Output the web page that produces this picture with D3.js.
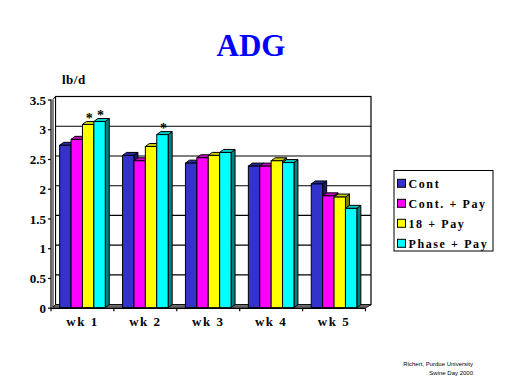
<!DOCTYPE html>
<html>
<head>
<meta charset="utf-8">
<script src="https://cdn.jsdelivr.net/npm/d3@7"></script>
<style>
  body { margin: 0; background: #fff; }
  svg { display: block; }
  text { font-family: "Liberation Serif", "Times New Roman", serif; font-weight: bold; }
</style>
</head>
<body>
<div id="chart"></div>
<script>
// data
const weeks = ["wk 1", "wk 2", "wk 3", "wk 4", "wk 5"];
const seriesNames = ["Cont", "Cont. + Pay", "18 + Pay", "Phase + Pay"];
const cont = [2.73, 2.56, 2.43, 2.38, 2.08];
const contPay = [2.83, 2.47, 2.52, 2.38, 1.88];
const eighteenPay = [3.08, 2.71, 2.56, 2.47, 1.86];
const phasePay = [3.13, 2.91, 2.61, 2.44, 1.67];
const yTicks = [0, 0.5, 1, 1.5, 2, 2.5, 3, 3.5];
// significance stars: [week index, series index]
const stars = [[0, 2], [0, 3], [1, 3]];

const colors = ["#3333CC", "#FF00FF", "#FFFF00", "#00FFFF"];
const sideColors = ["#1A1A66", "#800080", "#808000", "#008080"];
const topColors = ["#2929A3", "#CC00CC", "#CCCC00", "#00CCCC"];

const width = 512;
const height = 384;
const dx = 4, dy = -3; // 3D depth offset

const svg = d3.select("#chart").append("svg")
  .attr("width", width).attr("height", height);

const y = d3.scaleLinear().domain([0, 3.5]).range([307.7, 99.5]);
const x = d3.scaleBand().domain(weeks).range([51, 365.5])
  .paddingInner(0.275).paddingOuter(0.1375);
const xs = d3.scaleBand().domain(seriesNames).range([0, x.bandwidth()]);

const allSeries = [cont, contPay, eighteenPay, phasePay];
const rows = [];
weeks.forEach((w, i) => {
  allSeries.forEach((s, j) => rows.push({ week: w, series: seriesNames[j], j, value: s[i] }));
});

// title
svg.append("text").attr("x", 251).attr("y", 55.5)
  .attr("text-anchor", "middle").attr("font-size", 31).attr("fill", "#0000FF")
  .text("ADG");

svg.append("text").attr("x", 62).attr("y", 84).attr("font-size", 13)
  .attr("letter-spacing", 0.5).text("lb/d");

// back wall
const left = 55.5, right = 371;
svg.append("rect").attr("x", left).attr("y", y(3.5) + dy)
  .attr("width", right - left).attr("height", y(0) - y(3.5))
  .attr("fill", "#fff").attr("stroke", "#000").attr("stroke-width", 1.2);

// gridlines on back wall
svg.append("g").selectAll("line").data(yTicks.filter(d => d > 0 && d < 3.5)).join("line")
  .attr("x1", left).attr("x2", right)
  .attr("y1", d => y(d) + dy).attr("y2", d => y(d) + dy)
  .attr("stroke", "#000").attr("stroke-width", 1.2);

// side wall
svg.append("path")
  .attr("d", `M${left - 2.5},${y(3.5)} L${left},${y(3.5) + dy} L${left},${y(0) + dy} L${left - 2.5},${y(0)} Z`)
  .attr("fill", "#fff").attr("stroke", "#000").attr("stroke-width", 1);

// floor
svg.append("path")
  .attr("d", `M${left - 2.5},${y(0) - 0.5} L${left},${y(0) + dy} L${right},${y(0) + dy} L${right - 4},${y(0) - 0.5} Z`)
  .attr("fill", "#808080").attr("stroke", "#000").attr("stroke-width", 0.8);

// bars
const bars = svg.append("g");
const g = bars.selectAll("g").data(rows).join("g")
  .attr("transform", d => `translate(${x(d.week) + xs(d.series)},0)`);
const bw = xs.bandwidth();

g.append("path") // side face
  .attr("d", d => `M${bw},${y(d.value)} L${bw + dx},${y(d.value) + dy} L${bw + dx},${y(0) + dy} L${bw},${y(0)} Z`)
  .attr("fill", d => sideColors[d.j]).attr("stroke", "#000").attr("stroke-width", 1);
g.append("path") // top face
  .attr("d", d => `M0,${y(d.value)} L${dx},${y(d.value) + dy} L${bw + dx},${y(d.value) + dy} L${bw},${y(d.value)} Z`)
  .attr("fill", d => topColors[d.j]).attr("stroke", "#000").attr("stroke-width", 1);
g.append("rect") // front face
  .attr("x", 0).attr("y", d => y(d.value))
  .attr("width", bw).attr("height", d => y(0) - y(d.value))
  .attr("fill", d => colors[d.j]).attr("stroke", "#000").attr("stroke-width", 1);

// stars
svg.append("g").selectAll("text").data(stars).join("text")
  .attr("x", d => x(weeks[d[0]]) + xs(seriesNames[d[1]]) + bw / 2 + 1)
  .attr("y", d => y(allSeries[d[1]][d[0]]) - 1.5)
  .attr("text-anchor", "middle").attr("font-size", 14)
  .text("*");

// y axis
const yAxis = d3.axisLeft(y).tickValues(yTicks).tickSize(3)
  .tickFormat(d3.format("~g"));
const ya = svg.append("g").attr("transform", "translate(51,0)").call(yAxis);
ya.select(".domain").attr("d", `M0,${y(3.5)} V${y(0) + 0.6}`).attr("stroke", "#000").attr("stroke-width", 1.2);
ya.selectAll(".tick line").attr("stroke", "#000").attr("stroke-width", 1.2);
ya.selectAll(".tick text").attr("x", -5).attr("dy", "0.36em")
  .attr("font-size", 13).attr("font-family", "Liberation Serif").attr("font-weight", "bold")
  .attr("fill", "#000");

// x axis
const xAxis = d3.axisBottom(x).tickSize(0).tickSizeOuter(0);
const xa = svg.append("g").attr("transform", `translate(0,${y(0) + 0.6})`).call(xAxis);
xa.select(".domain").attr("d", `M51,0 H${x.range()[1]}`).attr("stroke", "#000").attr("stroke-width", 1.2);
xa.selectAll(".tick text").attr("y", 18).attr("dy", 0)
  .attr("font-size", 13).attr("font-family", "Liberation Serif").attr("font-weight", "bold")
  .attr("letter-spacing", 1.5).attr("fill", "#000");
xa.selectAll(".sep").data(d3.range(weeks.length + 1)).join("line")
  .attr("class", "sep")
  .attr("x1", i => x.range()[0] + i * x.step()).attr("x2", i => x.range()[0] + i * x.step())
  .attr("y1", 0).attr("y2", 3).attr("stroke", "#000").attr("stroke-width", 1.2);

// legend
const leg = svg.append("g");
leg.append("rect").attr("x", 394).attr("y", 170.5).attr("width", 99).attr("height", 80.5)
  .attr("fill", "#fff").attr("stroke", "#000").attr("stroke-width", 1);
const li = leg.selectAll("g.item").data(seriesNames).join("g").attr("class", "item")
  .attr("transform", (d, i) => `translate(397.5,${183.3 + i * 20})`);
li.append("rect").attr("x", 0).attr("y", -4).attr("width", 8).attr("height", 8)
  .attr("fill", (d, i) => colors[i]).attr("stroke", "#000").attr("stroke-width", 1);
li.append("text").attr("x", 11).attr("y", 4.3).attr("font-size", 12)
  .attr("letter-spacing", 1.6).text(d => d);

// footer
const foot = svg.append("g").attr("font-size", 6);
foot.append("text").attr("x", 473).attr("y", 366).attr("text-anchor", "end")
  .style("font-family", "'Liberation Sans', Arial, sans-serif").style("font-weight", "normal")
  .text("Richert, Purdue University");
foot.append("text").attr("x", 473).attr("y", 375).attr("text-anchor", "end")
  .style("font-family", "'Liberation Sans', Arial, sans-serif").style("font-weight", "normal")
  .text("Swine Day 2000");
</script>
</body>
</html>
